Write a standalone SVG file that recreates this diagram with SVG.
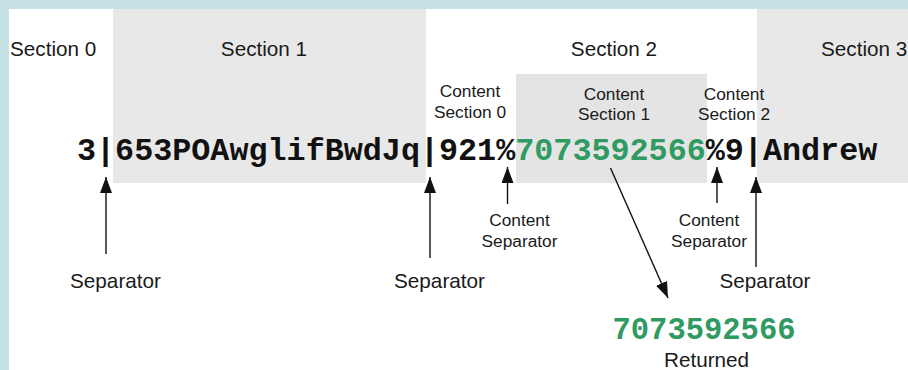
<svg xmlns="http://www.w3.org/2000/svg" width="908" height="370" viewBox="0 0 908 370">
<style>
.lbl{font-family:"Liberation Sans",Arial,sans-serif;font-size:20.7px;fill:#1a1a1a}
.sm{font-family:"Liberation Sans",Arial,sans-serif;font-size:17.3px;fill:#1a1a1a}
.mono{font-family:"Liberation Mono","Courier New",monospace;font-size:31.75px;font-weight:bold;fill:#111}
.grn{fill:#2f9a62}
.sec{fill:#e8e8e8}
.csec{fill:#e4e4e4}
.arr{stroke:#111;stroke-width:1.4;fill:none;marker-end:url(#ah)}
</style>
<defs>
<marker id="ah" markerUnits="userSpaceOnUse" markerWidth="17" markerHeight="12" refX="16" refY="6" orient="auto">
<path d="M0,0 L16,6 L0,12 z" fill="#111"/>
</marker>
</defs>
<rect x="0" y="0" width="908" height="370" fill="#ffffff"/>
<rect x="0" y="0" width="908" height="9" fill="#c6e2e7"/>
<rect x="0" y="0" width="9" height="370" fill="#c6e2e7"/>
<g id="section0"><text class="lbl" x="10" y="56">Section 0</text></g>
<g id="section1"><rect class="sec" x="113" y="9" width="313" height="174"/><text class="lbl" x="264" y="56" text-anchor="middle">Section 1</text></g>
<g id="section2"><text class="lbl" x="614" y="56" text-anchor="middle">Section 2</text></g>
<g id="section3"><rect class="sec" x="757" y="9" width="151" height="174"/><text class="lbl" x="821" y="56">Section 3</text></g>
<g id="content-section0"><text class="sm" x="470" y="97" text-anchor="middle">Content</text><text class="sm" x="470" y="118" text-anchor="middle">Section 0</text></g>
<g id="content-section1"><rect class="csec" x="516" y="74" width="191" height="109"/><text class="sm" x="614" y="99.5" text-anchor="middle">Content</text><text class="sm" x="614" y="120" text-anchor="middle">Section 1</text></g>
<g id="content-section2"><text class="sm" x="734" y="99.5" text-anchor="middle">Content</text><text class="sm" x="734" y="120" text-anchor="middle">Section 2</text></g>
<g id="string"><text class="mono" x="77" y="159.5">3|653POAwglifBwdJq|921%<tspan class="grn">7073592566</tspan>%9|Andrew</text></g>
<g id="connectors">
<line class="arr" x1="106" y1="254" x2="106" y2="177"/>
<line class="arr" x1="430" y1="258" x2="430" y2="177"/>
<line class="arr" x1="507.5" y1="204" x2="507.5" y2="167"/>
<line class="arr" x1="717" y1="203" x2="717" y2="167"/>
<line class="arr" x1="756" y1="267" x2="756" y2="177"/>
<line class="arr" x1="610.5" y1="168" x2="668" y2="298"/>
</g>
<g id="separator1"><text class="lbl" x="115.5" y="288" text-anchor="middle">Separator</text></g>
<g id="separator2"><text class="lbl" x="439.5" y="288" text-anchor="middle">Separator</text></g>
<g id="separator3"><text class="lbl" x="765" y="288" text-anchor="middle">Separator</text></g>
<g id="content-separator1"><text class="sm" x="519.5" y="226" text-anchor="middle">Content</text><text class="sm" x="519.5" y="247" text-anchor="middle">Separator</text></g>
<g id="content-separator2"><text class="sm" x="709" y="226" text-anchor="middle">Content</text><text class="sm" x="709" y="247" text-anchor="middle">Separator</text></g>
<g id="returned"><text class="mono grn" x="704" y="339" text-anchor="middle" style="font-size:30.5px">7073592566</text><text class="lbl" x="706.5" y="367" text-anchor="middle">Returned</text></g>
</svg>
